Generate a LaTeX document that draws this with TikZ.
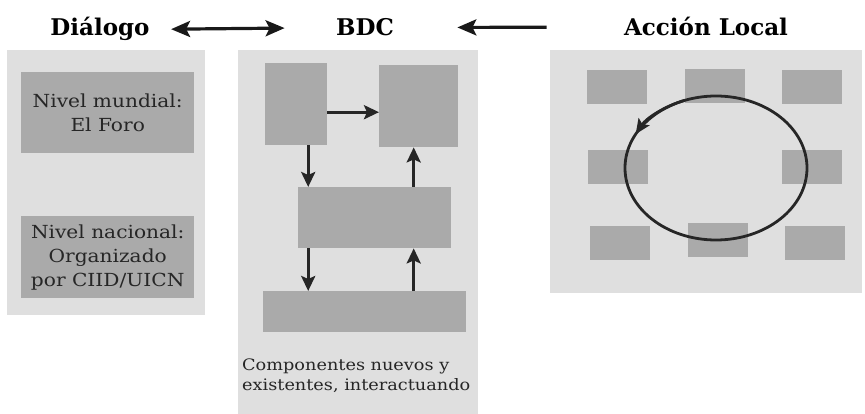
\documentclass[tikz,border=0pt]{standalone}
\usepackage{fontspec}
\setmainfont{DejaVu Serif}
\newfontfamily\widefont[FakeStretch=1.12]{DejaVu Serif}
\usetikzlibrary{arrows.meta, positioning, calc}
\definecolor{panelgray}{gray}{0.875}
\definecolor{boxgray}{gray}{0.665}

\begin{document}
\begin{tikzpicture}[x=1pt,y=-1pt]
    \tikzstyle{panel}=[fill=panelgray, draw=none, inner sep=0pt, anchor=north west]
    \tikzstyle{block}=[fill=boxgray, draw=none, inner sep=0pt, anchor=north west, align=center, text=black!85, font=\widefont\fontsize{18}{24}\selectfont]
    \tikzstyle{title}=[font=\bfseries\fontsize{23}{26}\selectfont, anchor=base]
    \tikzstyle{flow}=[-{Stealth[length=15pt,width=14pt,inset=3pt]}, line width=3pt, black!85]
    \tikzstyle{big arrow}=[line width=3.2pt, black!90]
    \tikzstyle{ring line}=[line width=2.8pt, black!85]

    \useasboundingbox (0,0) rectangle (865,414);

    % Draw the titles
    \node[title] (dialogo) at (100,36) {Diálogo};
    \node[title] (bdc) at (365,36) {BDC};
    \node[title] (accion) at (706,36) {Acción Local};

    % Connect the titles
    \draw[big arrow, {Stealth[length=19pt,width=16pt,inset=4pt]}-{Stealth[length=19pt,width=16pt,inset=4pt]}, shorten <=18pt, shorten >=48pt] (dialogo.east) -- (bdc.west);
    \draw[big arrow, -{Stealth[length=19pt,width=16pt,inset=4pt]}, shorten <=74pt, shorten >=60pt] (accion.west) -- (bdc.east);

    % Draw the panels
    \node[panel, minimum width=198pt, minimum height=265pt] (dlg) at (7,50) {};
    \node[panel, minimum width=240pt, minimum height=364pt] (comp) at (238,50) {};
    \node[panel, minimum width=312pt, minimum height=243pt] (local) at (550,50) {};

    % Draw the dialogue levels
    \node[block, minimum width=173pt, minimum height=81pt] (mundial) at (21,72) {Nivel mundial:\\El Foro};
    \node[block, minimum width=173pt, minimum height=82pt] (nacional) at (21,216) {Nivel nacional:\\Organizado\\por CIID/UICN};

    % Draw the components
    \node[block, minimum width=62pt, minimum height=82pt] (tl) at (265,63) {};
    \node[block, minimum width=79pt, minimum height=82pt] (tr) at (379,65) {};
    \node[block, minimum width=153pt, minimum height=61pt] (mid) at (298,187) {};
    \node[block, minimum width=203pt, minimum height=41pt] (bot) at (263,291) {};
    \node[anchor=north west, align=left, inner sep=0pt, text=black!85, font=\widefont\fontsize{15.8}{20}\selectfont] (caption) at (242,359) {Componentes nuevos y\\existentes, interactuando};

    % Connect the components
    \draw[flow] ([yshift=-8pt]tl.east) -- ([yshift=-8pt]tl.east -| tr.west);
    \draw[flow] ([xshift=12pt]tl.south) -- ([xshift=12pt]tl.south |- mid.north);
    \draw[flow] ([xshift=12pt]tl.south |- mid.south) -- ([xshift=12pt]tl.south |- bot.north);
    \draw[flow] ([xshift=-5pt]tr.south |- mid.north) -- ([xshift=-5pt]tr.south);
    \draw[flow] ([xshift=-5pt]tr.south |- bot.north) -- ([xshift=-5pt]tr.south |- mid.south);

    % Draw the local actors
    \foreach \name / \x / \y in {a/587/70, b/685/69, c/782/70, d/588/150, f/782/150, g/590/226, h/688/223, i/785/226}
        \node[block, minimum width=60pt, minimum height=34pt] (L-\name) at (\x,\y) {};

    % Draw the loop
    \coordinate (ring) at (716,168);
    \draw[ring line] (ring) ellipse [x radius=91pt, y radius=72pt];
    \draw[ring line, -{Stealth[length=15pt,width=13pt,inset=3pt]}] ([shift={(110:91pt and 72pt)}]ring) arc[start angle=110, end angle=152, x radius=91pt, y radius=72pt];

\end{tikzpicture}
\end{document}
